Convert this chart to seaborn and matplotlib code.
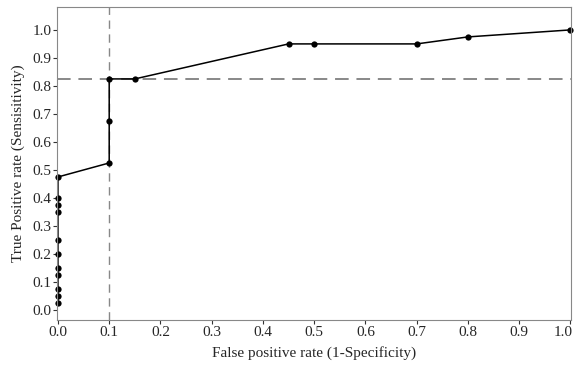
import numpy as np
import pandas as pd
import matplotlib
matplotlib.use("Agg")
import matplotlib.pyplot as plt
import matplotlib.transforms as mtransforms
import seaborn as sns

# ROC points
fpr = [0.0, 0.0, 0.0, 0.0, 0.0, 0.0, 0.0, 0.0, 0.0, 0.0, 0.0,
       0.1, 0.1, 0.1, 0.15, 0.45, 0.5, 0.7, 0.8, 1.0]
tpr = [0.025, 0.05, 0.075, 0.125, 0.15, 0.2, 0.25, 0.35, 0.375, 0.4, 0.475,
       0.525, 0.675, 0.825, 0.825, 0.95, 0.95, 0.95, 0.975, 1.0]
cut_fpr = 0.1
cut_tpr = 0.825
ticks = [0.0, 0.1, 0.2, 0.3, 0.4, 0.5, 0.6, 0.7, 0.8, 0.9, 1.0]

df = pd.DataFrame({"fpr": fpr, "tpr": tpr})

sns.set_style("white")
plt.rcParams['font.family'] = ['Liberation Serif', 'DejaVu Serif']

fig, ax = plt.subplots(figsize=(5.75, 3.65), dpi=100)
sns.lineplot(data=df, x="fpr", y="tpr", sort=False, estimator=None, color="black", lw=1.1,
             marker="o", markersize=4.5, markeredgewidth=0, ax=ax)
for ln in ax.lines:
    ln.set_clip_on(False)
ax.axvline(cut_fpr, color="#888888", ls=(0, (6, 4)), lw=1.0, zorder=0)
ax.axhline(cut_tpr, color="#888888", ls=(0, (7, 4)), lw=1.4, zorder=0)

ax.set_xlim(-0.002, 1.001)
ax.set_ylim(-0.036, 1.082)
ax.set_xticks(ticks)
ax.set_yticks(ticks)
ax.set_xticklabels([f"{v:.1f}" for v in ticks])
ax.set_yticklabels([f"{v:.1f}" for v in ticks])
ax.tick_params(axis="both", direction="out", length=3, width=0.8, color="#333333",
               labelsize=11, pad=1, bottom=True, left=True)
for s in ax.spines.values():
    s.set_color("#888888")
    s.set_linewidth(0.8)
ax.set_xlabel("False positive rate (1-Specificity)", fontsize=11, labelpad=5)
ax.set_ylabel("True Positive rate (Sensisitivity)", fontsize=11, labelpad=5)

# last x label sits against the figure edge, nudge it in
last = ax.get_xticklabels()[-1]
last.set_transform(last.get_transform() +
                   mtransforms.ScaledTranslation(-5 / 72, 0, fig.dpi_scale_trans))

fig.subplots_adjust(left=0.099, right=0.993, top=0.981, bottom=0.123)
fig.savefig("out.png", dpi=100)
